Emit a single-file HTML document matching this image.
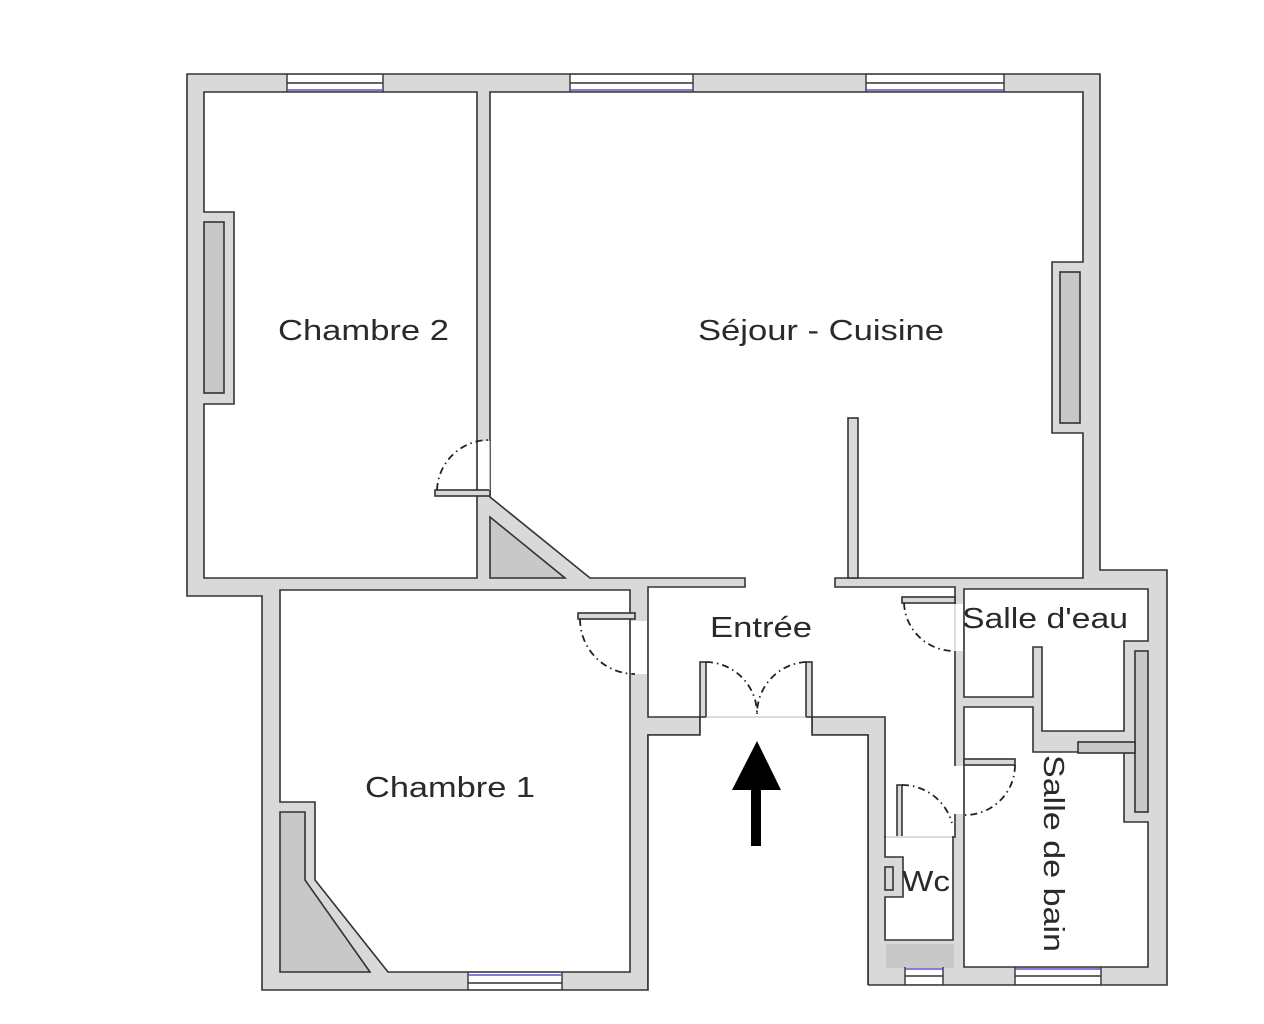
<!DOCTYPE html>
<html><head><meta charset="utf-8"><style>
html,body{margin:0;padding:0;background:#fff;}
svg{display:block;}
text{font-family:"Liberation Sans",sans-serif;fill:#2a2a2a;font-size:29px;}
</style></head><body>
<svg width="1264" height="1024" viewBox="0 0 1264 1024" xmlns="http://www.w3.org/2000/svg">
<g stroke="#333" stroke-width="1.6" stroke-linejoin="miter">
<!-- outer shell -->
<polygon fill="#d9d9d9" points="187,74 1100,74 1100,570 1167,570 1167,985 868,985 868,735 812,735 812,717 700,717 700,735 648,735 648,990 262,990 262,596 187,596"/>
<!-- Chambre 2 -->
<polygon fill="#fff" points="204,92 477,92 477,578 204,578 204,404 234,404 234,212 204,212"/>
<!-- Sejour + Entree -->
<polygon fill="#fff" points="490,92 1083,92 1083,262 1052,262 1052,433 1083,433 1083,578 835,578 835,587 955,587 955,837 885,837 885,717 648,717 648,587 745,587 745,578 590,578 490,497 490,92"/>
<!-- Salle d'eau -->
<polygon fill="#fff" points="964,589 1148,589 1148,641 1124,641 1124,731 1042,731 1042,647 1033,647 1033,697 964,697"/>
<!-- Salle de bain -->
<polygon fill="#fff" points="964,707 1033,707 1033,752 1124,752 1124,822 1148,822 1148,967 964,967"/>
<!-- WC -->
<polygon fill="#fff" points="885,837 953,837 953,940 885,940 885,897 903,897 903,857 885,857"/>
<!-- Chambre 1 -->
<polygon fill="#fff" points="280,590 630,590 630,972 388,972 315,880 315,802 280,802"/>
<!-- landing -->
<polygon fill="#fff" points="648,990 648,735 700,735 700,717 812,717 812,735 868,735 868,990" stroke="none"/>
<polyline fill="none" points="648,990 648,735 700,735 700,717"/>
<polyline fill="none" points="812,717 812,735 868,735 868,985"/>
<!-- darker inserts -->
<rect x="204" y="222" width="20" height="171" fill="#c8c8c8"/>
<rect x="1060" y="272" width="20" height="151" fill="#c8c8c8"/>
<polygon fill="#c8c8c8" points="490,517 490,578 565,578"/>
<polygon fill="#c8c8c8" points="280,812 305,812 305,880 370,972 280,972"/>
<rect x="1135" y="651" width="13" height="161" fill="#c8c8c8"/>
<rect x="1078" y="742" width="57" height="11" fill="#c8c8c8"/>
<rect x="885" y="867" width="8" height="23" fill="#d9d9d9"/>
<!-- sejour stub -->
<rect x="848" y="418" width="10" height="160" fill="#d9d9d9"/>
<!-- door leaves -->
<rect x="435" y="490" width="55" height="6" fill="#d9d9d9"/>
<rect x="578" y="613" width="57" height="6" fill="#d9d9d9"/>
<rect x="902" y="597" width="53" height="6" fill="#d9d9d9"/>
<rect x="964" y="759" width="51" height="6" fill="#d9d9d9"/>
<rect x="897" y="785" width="5" height="52" fill="#d9d9d9"/>
<rect x="700" y="662" width="6" height="55" fill="#d9d9d9"/>
<rect x="806" y="662" width="6" height="55" fill="#d9d9d9"/>
</g>
<!-- door gaps -->
<g fill="#fff" stroke="none">
<rect x="478" y="441" width="11.5" height="48"/>
<rect x="631" y="621" width="16" height="53"/>
<rect x="954" y="604" width="9" height="47"/>
<rect x="954" y="766" width="9" height="48"/>
<rect x="886" y="836" width="66" height="2"/>
<rect x="707" y="716" width="98" height="2"/>
<rect x="886" y="944" width="68" height="24" fill="#c8c8c8"/>
</g>
<g stroke="#bbb" stroke-width="1">
<line x1="489.5" y1="441" x2="489.5" y2="490"/>
<line x1="706" y1="717" x2="806" y2="717"/>
<line x1="886" y1="837" x2="952" y2="837"/>
<line x1="955" y1="604" x2="955" y2="651"/>
</g>
<!-- door arcs -->
<g fill="none" stroke="#222" stroke-width="1.8" stroke-dasharray="7 4 1.5 4">
<path d="M437,490 A52,52 0 0 1 489,440"/>
<path d="M580,619 A55,55 0 0 0 635,674"/>
<path d="M904,603 A50,50 0 0 0 954,651"/>
<path d="M1015,765 A50,50 0 0 1 965,815"/>
<path d="M902,785 A52,52 0 0 1 952,823"/>
<path d="M706,662 A52,52 0 0 1 757,715"/>
<path d="M806,662 A52,52 0 0 0 757,715"/>
</g>
<!-- windows -->
<g>
<g fill="#fff" stroke="none">
<rect x="287" y="75" width="96" height="16"/>
<rect x="570" y="75" width="123" height="16"/>
<rect x="866" y="75" width="138" height="16"/>
<rect x="468" y="973" width="94" height="16"/>
<rect x="905" y="968" width="38" height="16"/>
<rect x="1015" y="968" width="86" height="16"/>
</g>
<g stroke="#333" stroke-width="1.4">
<line x1="287" y1="83" x2="383" y2="83"/><line x1="570" y1="83" x2="693" y2="83"/><line x1="866" y1="83" x2="1004" y2="83"/>
<line x1="287" y1="74" x2="287" y2="92"/><line x1="383" y1="74" x2="383" y2="92"/>
<line x1="570" y1="74" x2="570" y2="92"/><line x1="693" y1="74" x2="693" y2="92"/>
<line x1="866" y1="74" x2="866" y2="92"/><line x1="1004" y1="74" x2="1004" y2="92"/>
<line x1="468" y1="972" x2="468" y2="990"/><line x1="562" y1="972" x2="562" y2="990"/>
<line x1="905" y1="967" x2="905" y2="985"/><line x1="943" y1="967" x2="943" y2="985"/>
<line x1="1015" y1="967" x2="1015" y2="985"/><line x1="1101" y1="967" x2="1101" y2="985"/>
<line x1="468" y1="983" x2="562" y2="983"/><line x1="905" y1="976" x2="943" y2="976"/><line x1="1015" y1="976" x2="1101" y2="976"/>
</g>
<g stroke="#5555cc" stroke-width="1.4">
<line x1="287" y1="90" x2="383" y2="90"/><line x1="570" y1="90" x2="693" y2="90"/><line x1="866" y1="90" x2="1004" y2="90"/>
<line x1="468" y1="975" x2="562" y2="975"/><line x1="905" y1="969" x2="943" y2="969"/><line x1="1015" y1="969" x2="1101" y2="969"/>
</g>
</g>
<!-- arrow -->
<rect x="751" y="788" width="10" height="58" fill="#000"/>
<polygon points="732,790 757,741 781,790" fill="#000"/>
<!-- labels -->
<text x="278" y="340" textLength="171" lengthAdjust="spacingAndGlyphs">Chambre 2</text>
<text x="698" y="340" textLength="246" lengthAdjust="spacingAndGlyphs">Séjour - Cuisine</text>
<text x="710" y="637" textLength="102" lengthAdjust="spacingAndGlyphs">Entrée</text>
<text x="962" y="628" textLength="166" lengthAdjust="spacingAndGlyphs">Salle d'eau</text>
<text x="365" y="797" textLength="170" lengthAdjust="spacingAndGlyphs">Chambre 1</text>
<text x="902" y="891" textLength="48" lengthAdjust="spacingAndGlyphs">Wc</text>
<text transform="translate(1044,755) rotate(90)" x="0" y="0" textLength="197" lengthAdjust="spacingAndGlyphs">Salle de bain</text>
</svg>
</body></html>
